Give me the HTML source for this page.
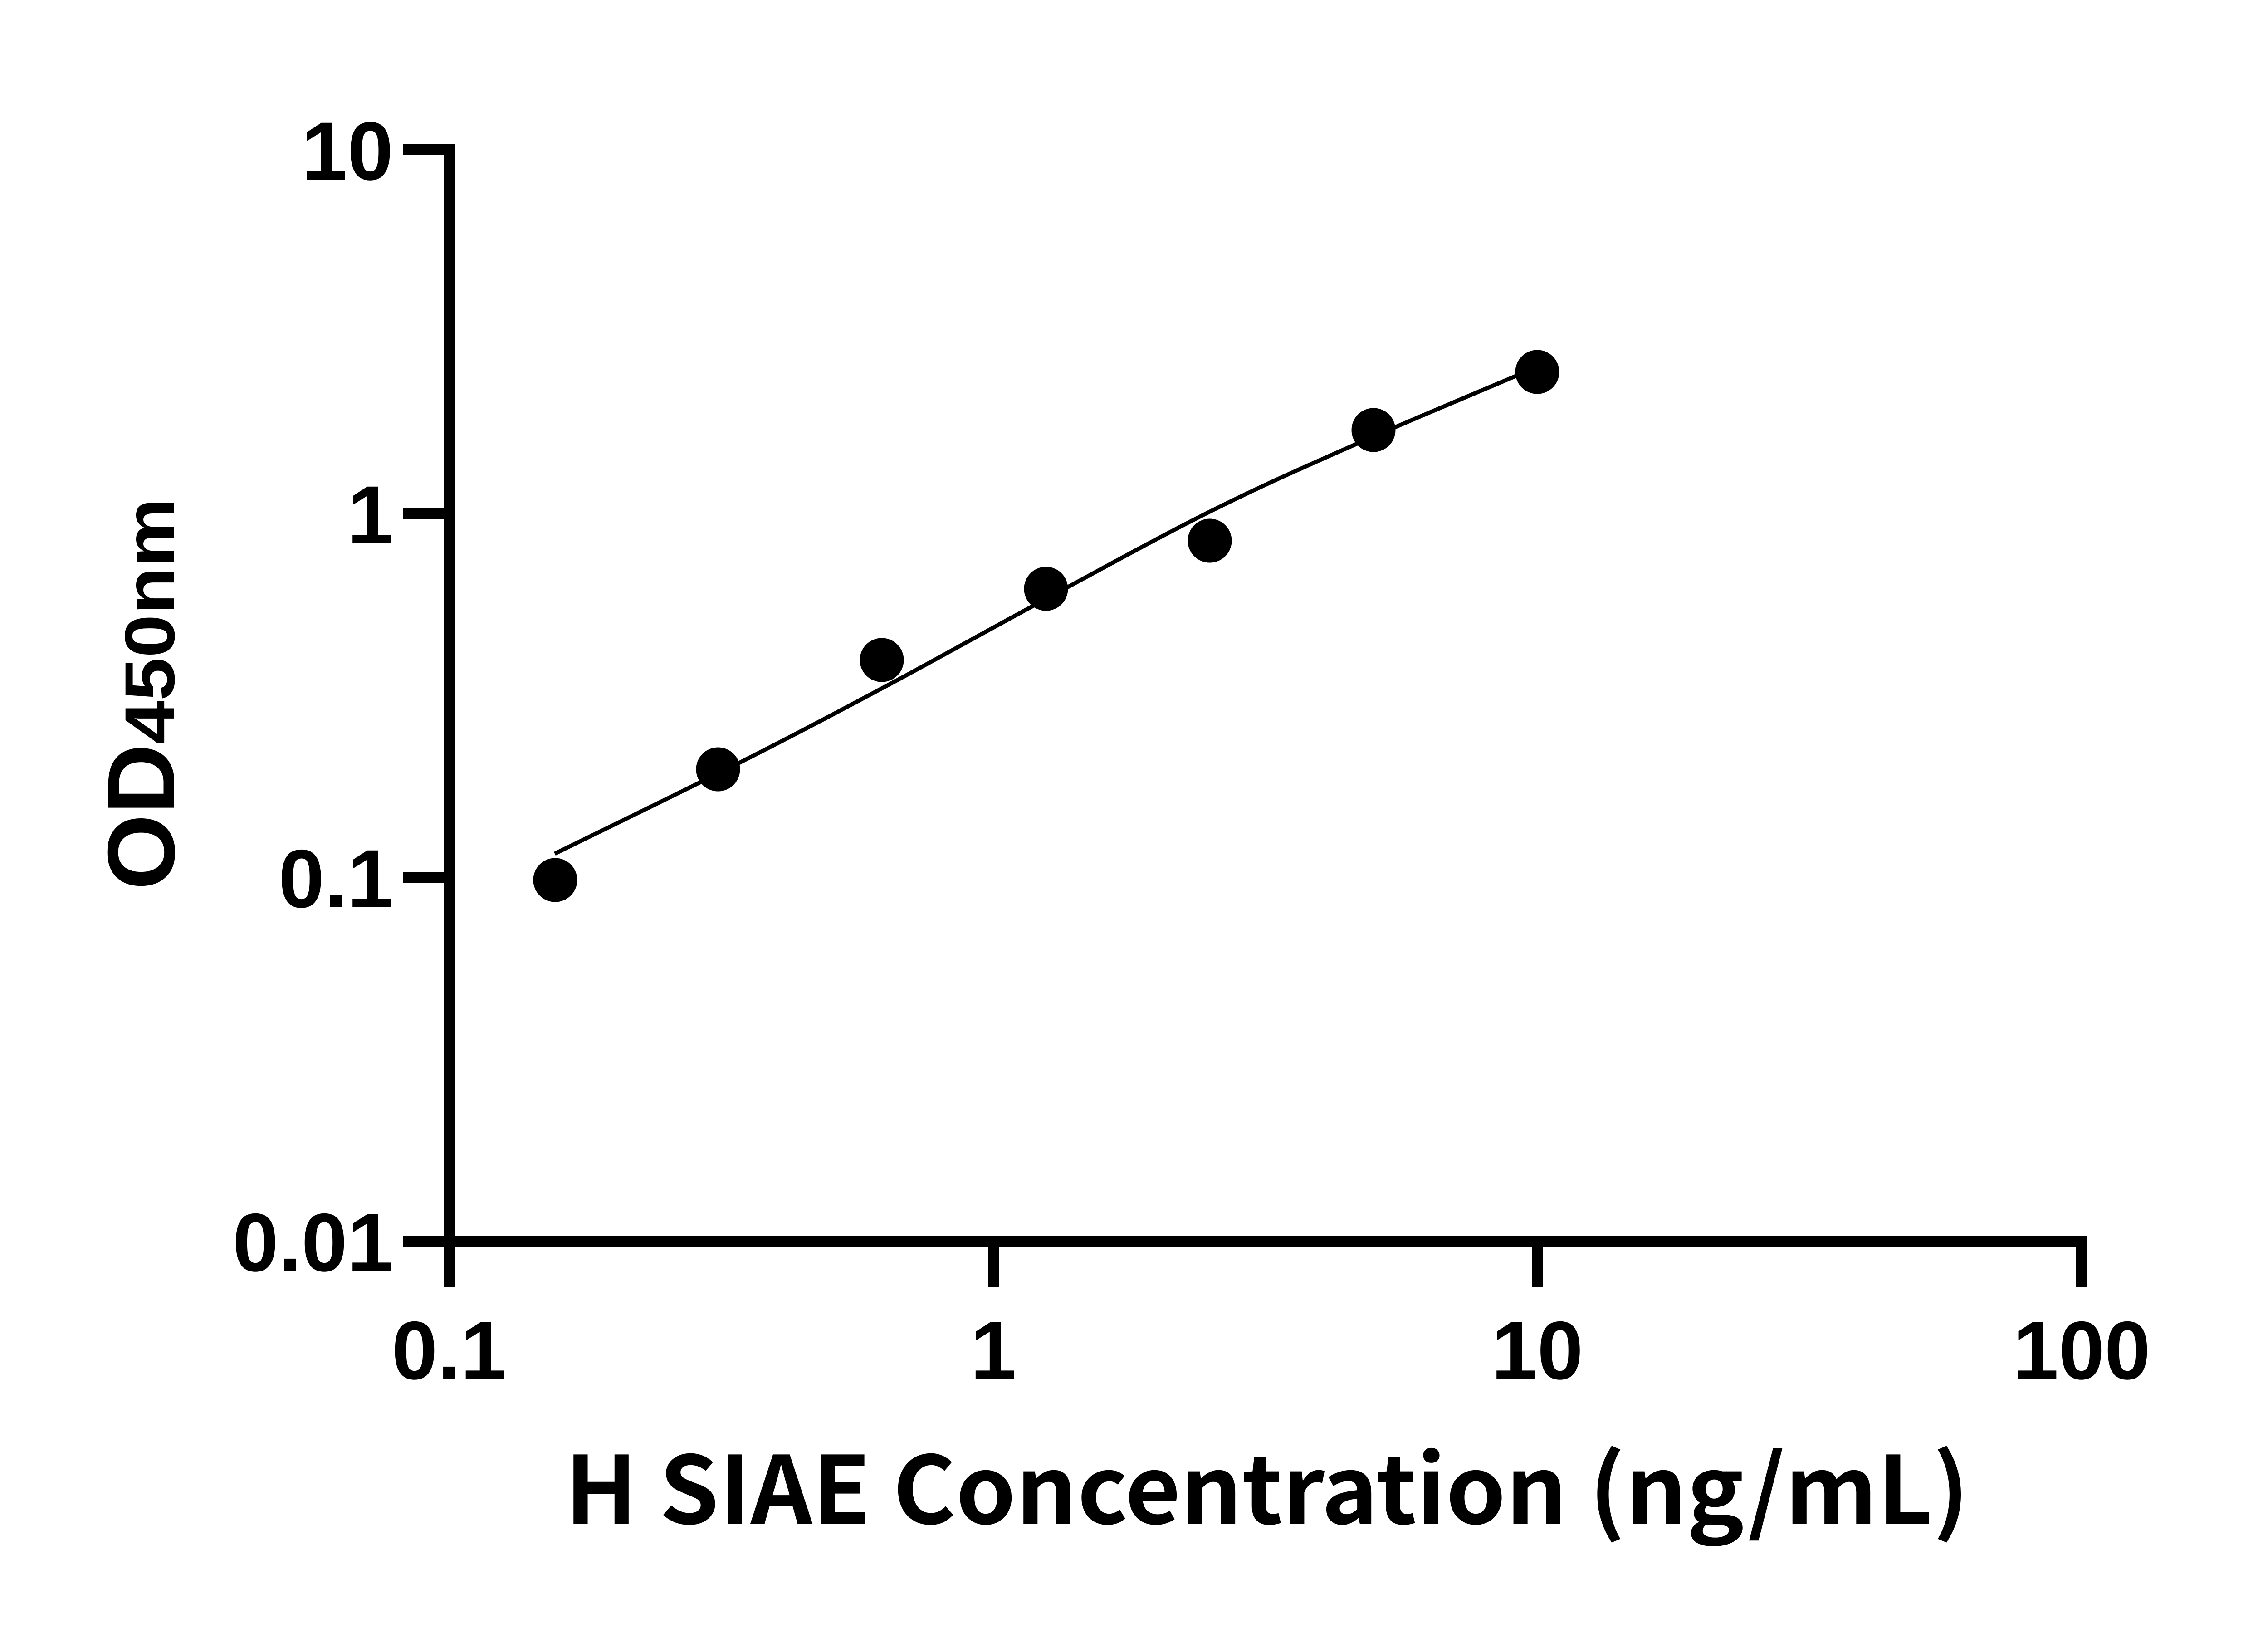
<!DOCTYPE html>
<html>
<head>
<meta charset="utf-8">
<style>
  html, body { margin: 0; padding: 0; background: #ffffff; }
  svg { display: block; }
</style>
</head>
<body>
<svg xmlns="http://www.w3.org/2000/svg" width="5142" height="3600" viewBox="0 0 5142 3600">
  <rect x="0" y="0" width="5142" height="3600" fill="#ffffff"/>

  <!-- Y axis line -->
  <rect x="978" y="318" width="24" height="2519" fill="#000"/>
  <!-- Y ticks -->
  <rect x="888" y="318" width="102" height="24" fill="#000"/>
  <rect x="888" y="1120" width="102" height="24" fill="#000"/>
  <rect x="888" y="1922" width="102" height="24" fill="#000"/>
  <rect x="888" y="2724" width="102" height="24" fill="#000"/>

  <!-- X axis line -->
  <rect x="888" y="2724" width="3713" height="24" fill="#000"/>
  <!-- X ticks -->
  <rect x="2178" y="2736" width="24" height="101" fill="#000"/>
  <rect x="3377" y="2736" width="24" height="101" fill="#000"/>
  <rect x="4577" y="2736" width="24" height="101" fill="#000"/>

  <!-- Y tick labels -->
  <g font-family="'Liberation Sans', Arial, sans-serif" font-weight="bold" font-size="182" fill="#000" text-anchor="end">
    <text x="867" y="396">10</text>
    <text x="867" y="1198">1</text>
    <text x="867" y="2000">0.1</text>
    <text x="867" y="2802">0.01</text>
  </g>

  <!-- X tick labels -->
  <g font-family="'Liberation Sans', Arial, sans-serif" font-weight="bold" font-size="182" fill="#000" text-anchor="middle">
    <text x="990" y="3040">0.1</text>
    <text x="2190" y="3040">1</text>
    <text x="3389" y="3040">10</text>
    <text x="4589" y="3040">100</text>
  </g>

  <!-- Fitted curve -->
  <path d="M1223,1882
           C1291,1848.5 1507.8,1743.3 1631,1681
           C1754.2,1618.7 1852.2,1566.7 1962,1508
           C2071.8,1449.3 2172.8,1392.2 2290,1329
           C2407.2,1265.8 2549.5,1186.8 2665,1129
           C2780.5,1071.2 2862.3,1035.3 2983,982
           C3103.7,928.7 3321.3,837.8 3389,809"
        fill="none" stroke="#000" stroke-width="9" stroke-linecap="butt" stroke-linejoin="round"/>

  <!-- Data points -->
  <g fill="#000">
    <circle cx="1224" cy="1940" r="48.5"/>
    <circle cx="1583" cy="1696" r="48.5"/>
    <circle cx="1944" cy="1455" r="48.5"/>
    <circle cx="2306" cy="1298" r="48.5"/>
    <circle cx="2667" cy="1192" r="48.5"/>
    <circle cx="3028" cy="948" r="48.5"/>
    <circle cx="3389" cy="820" r="48.5"/>
  </g>

  <!-- Y axis title -->
  <text transform="translate(384,1962) rotate(-90)" x="0" y="0"
        font-family="'Liberation Sans', Arial, sans-serif" font-weight="bold" font-size="211" fill="#000"
        textLength="322" lengthAdjust="spacingAndGlyphs">OD</text>
  <text transform="translate(384,1640) rotate(-90)" x="0" y="0"
        font-family="'Liberation Sans', Arial, sans-serif" font-weight="bold" font-size="156" fill="#000"
        textLength="542" lengthAdjust="spacingAndGlyphs">450nm</text>

  <!-- X axis title -->
  <text x="1245" y="3359"
        font-family="'Liberation Sans', 'Noto Sans CJK SC', sans-serif" font-weight="bold" font-size="206" fill="#000"
        textLength="3096" lengthAdjust="spacingAndGlyphs"
        style="font-family: 'Noto Sans CJK SC', 'Liberation Sans', sans-serif;">H SIAE Concentration (ng/mL)</text>
</svg>
</body>
</html>
